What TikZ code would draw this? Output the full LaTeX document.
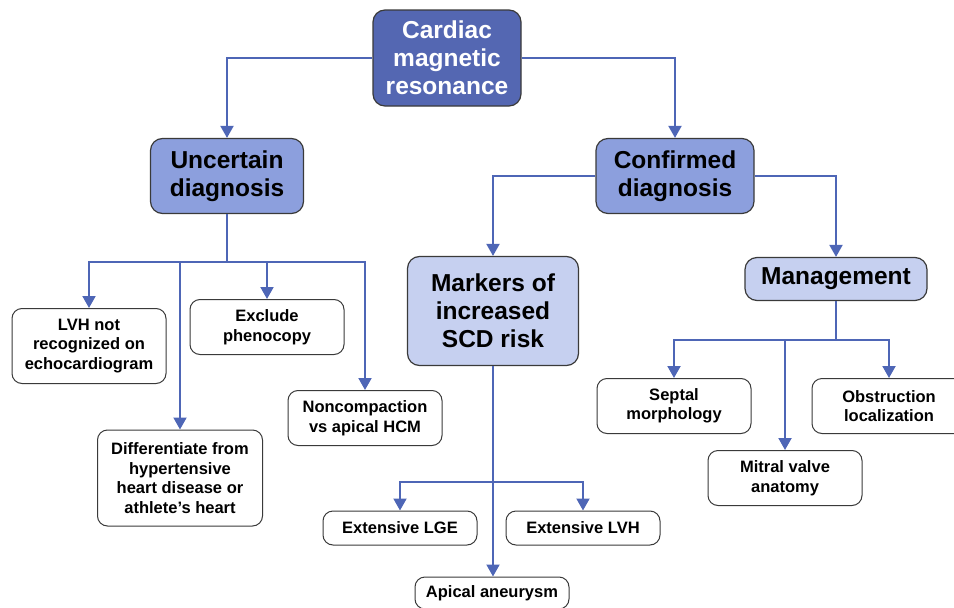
\documentclass[tikz,border=0pt]{standalone}
\usepackage{fontspec}
\setmainfont{Liberation Sans}
\usepackage{tikz}
\usetikzlibrary{arrows.meta,positioning}
\definecolor{cmrblue}{HTML}{5467B2}
\definecolor{midblue}{HTML}{8C9FDD}
\definecolor{paleblue}{HTML}{C6D0F0}
\definecolor{linkblue}{HTML}{4E66B6}
\definecolor{edgegray}{HTML}{3A3A3A}

\begin{document}
\begin{tikzpicture}[x=1pt, y=-1pt,
    bigbox/.style={draw=edgegray, line width=1.2pt, rounded corners=12pt, align=center,
        font=\fontsize{24.5}{28}\selectfont\bfseries, inner sep=2pt},
    smallbox/.style={draw=edgegray, line width=1pt, rounded corners=10pt, align=center, fill=white,
        font=\fontsize{16.5}{19.5}\selectfont\bfseries, inner sep=2pt, minimum width=154pt},
    conn/.style={draw=linkblue, line width=2pt, -{Triangle[width=13pt,length=12pt]}},
    plain/.style={draw=linkblue, line width=2pt}]
    \useasboundingbox (0,0) rectangle (954,608);

    % Top level
    \node[bigbox, fill=cmrblue, text=white, minimum width=148pt, minimum height=96pt] (cmr) at (447,58) {Cardiac\\magnetic\\resonance};

    % Second level
    \node[bigbox, fill=midblue, minimum width=153pt, minimum height=75pt] (uncertain) at (227,176) {Uncertain\\diagnosis};
    \node[bigbox, fill=midblue, minimum width=158pt, minimum height=75pt] (confirmed) at (675,176) {Confirmed\\diagnosis};

    % Third level
    \node[bigbox, fill=paleblue, minimum width=171pt, minimum height=109pt] (markers) at (493,311) {Markers of\\increased\\SCD risk};
    \node[bigbox, fill=paleblue, minimum width=182pt, minimum height=43pt] (management) at (836,279) {Management};

    % Uncertain diagnosis leaves
    \node[smallbox, minimum height=75pt] (lvhnot) at (89,346) {LVH not\\recognized on\\echocardiogram};
    \node[smallbox, minimum height=55pt] (phenocopy) at (267,327) {Exclude\\phenocopy};
    \node[smallbox, minimum width=165pt, minimum height=96pt] (differentiate) at (180,478) {Differentiate from\\hypertensive\\heart disease or\\athlete’s heart};
    \node[smallbox, minimum height=55pt] (noncompaction) at (365,418) {Noncompaction\\vs apical HCM};

    % SCD risk leaves
    \node[smallbox, minimum height=34pt] (lge) at (400,528) {Extensive LGE};
    \node[smallbox, minimum height=34pt] (extlvh) at (583,528) {Extensive LVH};
    \node[smallbox, minimum height=32pt] (aneurysm) at (492,593) {Apical aneurysm};

    % Management leaves
    \node[smallbox, minimum height=55pt] (septal) at (674,406) {Septal\\morphology};
    \node[smallbox, minimum height=55pt] (obstruction) at (889,406) {Obstruction\\localization};
    \node[smallbox, minimum height=55pt] (mitral) at (785,478) {Mitral valve\\anatomy};

    % Connectors from the top
    \draw[conn] (cmr.west) -| (uncertain.north);
    \draw[conn] (cmr.east) -| (confirmed.north);
    \draw[conn] (confirmed.west) -| (markers.north);
    \draw[conn] (confirmed.east) -| (management.north);

    % Uncertain branch
    \coordinate (ubranch) at (227,262);
    \draw[plain] (uncertain.south) -- (ubranch);
    \foreach \leaf in {lvhnot,differentiate,phenocopy,noncompaction}
        \draw[conn] (ubranch) -| (\leaf.north);

    % SCD branch
    \coordinate (sbranch) at (493,482);
    \draw[conn] (markers.south) -- (markers.south |- aneurysm.north);
    \foreach \leaf in {lge,extlvh}
        \draw[conn] (sbranch) -| (\leaf.north);

    % Management branch
    \coordinate (mbranch) at (836,340);
    \draw[plain] (management.south) -- (mbranch);
    \foreach \leaf in {septal,mitral,obstruction}
        \draw[conn] (mbranch) -| (\leaf.north);
\end{tikzpicture}
\end{document}
